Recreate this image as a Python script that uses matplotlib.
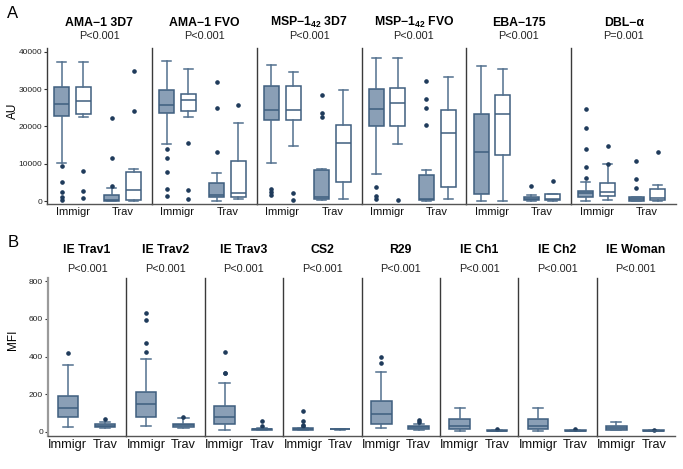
import matplotlib
matplotlib.use("Agg")
import matplotlib.pyplot as plt

plt.rcParams['font.family'] = ['Liberation Sans', 'DejaVu Sans']
plt.rcParams['mathtext.fontset'] = 'custom'
plt.rcParams['mathtext.rm'] = 'Liberation Sans'
plt.rcParams['mathtext.bf'] = 'Liberation Sans:bold'

# ---------------- data ----------------
groups = ["Immigr", "Trav"]

top_titles = ["AMA−1 3D7", "AMA−1 FVO", r"MSP−1$_{\mathbf{42}}$ 3D7",
              r"MSP−1$_{\mathbf{42}}$ FVO", "EBA−175", "DBL−α"]
top_pvalues = ["P<0.001", "P<0.001", "P<0.001", "P<0.001", "P<0.001", "P=0.001"]
top_yticks = [0, 10000, 20000, 30000, 40000]

# per box: [whislo, q1, median, q3, whishi]; order: Immigr-fill, Immigr-white, Trav-fill, Trav-white
ama1_3d7 = [[10300, 22700, 25900, 30600, 37300], [22500, 23400, 26800, 30500, 37300],
            [0, 50, 300, 1500, 3500], [0, 400, 3000, 7800, 8500]]
ama1_3d7_fl = [[9500, 5000, 2500, 1000, 300], [8000, 2800, 700], [22200, 11600, 4000], [34800, 24100]]
ama1_fvo = [[15300, 23500, 25600, 29700, 37400], [22600, 24200, 27200, 28700, 35400],
            [0, 1000, 1600, 4800, 7400], [600, 1150, 2100, 10700, 20900]]
ama1_fvo_fl = [[14000, 11600, 7700, 3100, 1300], [15600, 2900, 550], [31900, 24900, 13100], [25600]]
msp_3d7 = [[10300, 21800, 24300, 30700, 36500], [14800, 21800, 24300, 30900, 34600],
           [270, 450, 1070, 8300, 8500], [540, 5200, 15600, 20400, 29800]]
msp_3d7_fl = [[3100, 2500, 1500], [2200, 300], [28500, 23700, 22400], []]
msp_fvo = [[7200, 20200, 24600, 29900, 38200], [15300, 20200, 26200, 30200, 38200],
           [100, 150, 540, 7100, 8300], [450, 3700, 18100, 24500, 33300]]
msp_fvo_fl = [[3700, 1300, 500], [270], [32100, 27300, 24800, 20400], []]
eba175 = [[0, 1800, 13100, 23400, 36200], [0, 12400, 23200, 28400, 35300],
          [100, 300, 600, 1000, 1700], [100, 270, 540, 1900, 2000]]
eba175_fl = [[], [], [4100], [5400]]
dbl_a = [[90, 1070, 2060, 2770, 5200], [270, 1430, 2500, 4800, 9900],
         [50, 100, 450, 990, 990], [100, 360, 890, 3300, 4200]]
dbl_a_fl = [[24700, 19600, 13900, 9000, 6200], [14700, 9900], [10600, 5900, 3500], [13000]]

top_boxes = [ama1_3d7, ama1_fvo, msp_3d7, msp_fvo, eba175, dbl_a]
top_fliers = [ama1_3d7_fl, ama1_fvo_fl, msp_3d7_fl, msp_fvo_fl, eba175_fl, dbl_a_fl]

bot_titles = ["IE Trav1", "IE Trav2", "IE Trav3", "CS2", "R29", "IE Ch1", "IE Ch2", "IE Woman"]
bot_pvalues = ["P<0.001"] * 8
bot_yticks = [0, 200, 400, 600, 800]

ie_trav1 = [[27, 78, 124, 191, 354], [18, 23, 30, 39, 50]]
ie_trav1_fl = [[418], [67]]
ie_trav2 = [[32, 80, 150, 212, 386], [21, 25, 35, 42, 71]]
ie_trav2_fl = [[634, 593, 474, 423], [81]]
ie_trav3 = [[11, 41, 80, 136, 262], [7, 9, 12, 16, 18]]
ie_trav3_fl = [[423, 315, 311], [57, 28]]
cs2 = [[7, 11, 14, 18, 21], [10, 12, 13, 14, 16]]
cs2_fl = [[112, 57, 35, 28], []]
r29 = [[19, 42, 92, 166, 320], [11, 16, 23, 28, 39]]
r29_fl = [[396, 368], [65, 53]]
ie_ch1 = [[5, 16, 30, 67, 127], [2, 4, 5, 7, 7]]
ie_ch1_fl = [[], [14]]
ie_ch2 = [[5, 16, 30, 67, 127], [2, 4, 5, 7, 7]]
ie_ch2_fl = [[], [14]]
ie_woman = [[7, 11, 18, 30, 51], [3, 5, 6, 7, 8]]
ie_woman_fl = [[], [9]]

bot_boxes = [ie_trav1, ie_trav2, ie_trav3, cs2, r29, ie_ch1, ie_ch2, ie_woman]
bot_fliers = [ie_trav1_fl, ie_trav2_fl, ie_trav3_fl, cs2_fl, r29_fl, ie_ch1_fl, ie_ch2_fl, ie_woman_fl]

# ---------------- style ----------------
FILL = '#8a9fb6'
EDGE = '#3e5e7e'
WHISK = '#52708e'
FLIER = '#1f3b5b'
AXC = '#3a3a3a'

W, H = 683, 469
fig = plt.figure(figsize=(W / 100, H / 100), dpi=100)


def ax_px(l, t, r, b):
    return fig.add_axes([l / W, 1 - b / H, (r - l) / W, (b - t) / H])


def make_stats(rows, fls):
    out = []
    for r, f in zip(rows, fls):
        out.append(dict(whislo=r[0], q1=r[1], med=r[2], q3=r[3], whishi=r[4], fliers=f))
    return out


def draw_panel(ax, stats, positions, widths, capw, faces):
    bp = ax.bxp(stats, positions=positions, widths=widths, capwidths=capw,
                patch_artist=True, showfliers=True,
                boxprops=dict(edgecolor=EDGE, linewidth=1.1),
                medianprops=dict(color=EDGE, linewidth=1.1),
                whiskerprops=dict(color=WHISK, linewidth=1.1),
                capprops=dict(color=WHISK, linewidth=1.1),
                flierprops=dict(marker='o', markersize=2.3, markerfacecolor=FLIER,
                                markeredgecolor=FLIER, linestyle='none'))
    for p, fc in zip(bp['boxes'], faces):
        p.set_facecolor(fc)


def style_axes(ax, first, yticks, fs_x):
    for s in ['top', 'right']:
        ax.spines[s].set_visible(False)
    ax.spines['left'].set_color(AXC)
    ax.spines['bottom'].set_color('#555555')
    ax.spines['left'].set_linewidth(1.0)
    ax.spines['bottom'].set_linewidth(1.0)
    ax.set_xticks([1, 2])
    ax.set_xticklabels(groups, fontsize=fs_x)
    ax.tick_params(axis='x', length=0, pad=2.5, colors='#111111')
    if first:
        ax.set_yticks(yticks)
        ax.set_yticklabels([str(v) for v in yticks], fontsize=6, color='#222222')
        ax.tick_params(axis='y', length=2, width=0.8, pad=1.5, color='#333333')
    else:
        ax.set_yticks([])


# ---------------- panel A ----------------
tl, tr, tt, tb = 47, 676, 48, 204
n_top = len(top_titles)
pw = (tr - tl) / n_top
for i in range(n_top):
    l = tl + i * pw
    ax = ax_px(l, tt, l + pw, tb)
    st = make_stats(top_boxes[i], top_fliers[i])
    draw_panel(ax, st, [1 - 0.215, 1 + 0.215, 2 - 0.215, 2 + 0.215], 0.3, 0.18,
               [FILL, 'white', FILL, 'white'])
    ax.set_xlim(0.49, 2.58)
    ax.set_ylim(-800, 41000)
    style_axes(ax, i == 0, top_yticks, 8)
    cx = (l + pw / 2) / W
    fig.text(cx, 1 - 22.5 / H, top_titles[i], ha='center', va='center',
             fontsize=8.8, fontweight='bold')
    fig.text(cx, 1 - 36.3 / H, top_pvalues[i], ha='center', va='center', fontsize=7.8,
             color='#222222')

# ---------------- panel B ----------------
bl, br, bt, bb = 48, 675, 278, 435.7
n_bot = len(bot_titles)
pw2 = (br - bl) / n_bot
for i in range(n_bot):
    l = bl + i * pw2
    ax = ax_px(l, bt, l + pw2, bb)
    st = make_stats(bot_boxes[i], bot_fliers[i])
    draw_panel(ax, st, [1, 2], 0.55, 0.27, [FILL, FILL])
    ax.set_xlim(0.47, 2.57)
    ax.set_ylim(-21, 818)
    style_axes(ax, i == 0, bot_yticks, 9.2)
    if i == 0:
        ax.spines['left'].set_color('#9a9a9a')
        ax.spines['left'].set_linewidth(1.6)
    cx = (l + pw2 / 2) / W
    fig.text(cx, 1 - 249.7 / H, bot_titles[i], ha='center', va='center',
             fontsize=8.8, fontweight='bold')
    fig.text(cx, 1 - 269 / H, bot_pvalues[i], ha='center', va='center', fontsize=7.8,
             color='#222222')

# labels
fig.text(13 / W, 1 - 13 / H, 'A', ha='center', va='center', fontsize=12)
fig.text(13 / W, 1 - 242.5 / H, 'B', ha='center', va='center', fontsize=12)
fig.text(13 / W, 1 - 111 / H, 'AU', ha='center', va='center', fontsize=8.5, rotation=90)
fig.text(13 / W, 1 - 340 / H, 'MFI', ha='center', va='center', fontsize=8.5, rotation=90)

fig.savefig('out.png', dpi=100)
